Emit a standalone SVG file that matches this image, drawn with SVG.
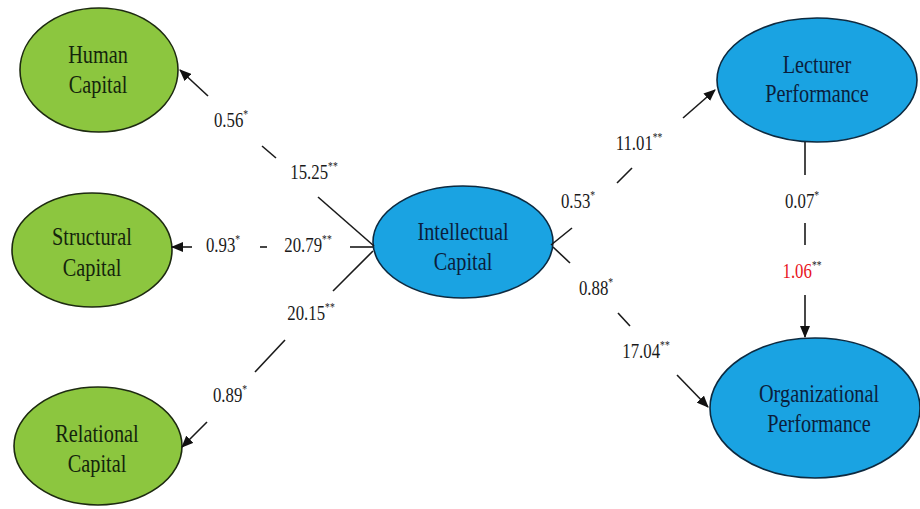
<svg xmlns="http://www.w3.org/2000/svg" width="920" height="509" viewBox="0 0 920 509">
<style>
.g{fill:#8cc63f;stroke:#1d2a10;stroke-width:1.6}
.b{fill:#1aa3e2;stroke:#0d2a40;stroke-width:1.6}
text{font-family:'Liberation Serif','Times New Roman','DejaVu Serif',serif}
.nt{font-size:26px;text-anchor:middle}
.gt{fill:#14240c}
.bt{fill:#0b1e3c}
.lb{font-size:21px;text-anchor:middle;fill:#1a1a1a}
.red{fill:#e8141c}
.st{font-size:12px}
.c line{stroke:#1a1a1a;stroke-width:1.6}
</style>
<defs>
<marker id="ah" viewBox="0 0 12 10" refX="11" refY="5" markerWidth="12" markerHeight="10" markerUnits="userSpaceOnUse" orient="auto">
<path d="M0,0 L12,5 L0,10 z" fill="#111"/>
</marker>
</defs>
<rect width="920" height="509" fill="#fff"/>
<g id="human">
<ellipse class="g" cx="99" cy="70" rx="79" ry="62"/>
<text class="nt gt" transform="translate(98,63) scale(0.78,1)">Human</text>
<text class="nt gt" transform="translate(98,93) scale(0.78,1)">Capital</text>
</g>
<g id="structural">
<ellipse class="g" cx="92" cy="250" rx="80" ry="57"/>
<text class="nt gt" transform="translate(92,245) scale(0.78,1)">Structural</text>
<text class="nt gt" transform="translate(92,276) scale(0.78,1)">Capital</text>
</g>
<g id="relational">
<ellipse class="g" cx="98" cy="446" rx="84" ry="59"/>
<text class="nt gt" transform="translate(97,442) scale(0.78,1)">Relational</text>
<text class="nt gt" transform="translate(97,472) scale(0.78,1)">Capital</text>
</g>
<g id="intellectual">
<ellipse class="b" cx="463" cy="242" rx="90" ry="56"/>
<text class="nt bt" transform="translate(463,240) scale(0.78,1)">Intellectual</text>
<text class="nt bt" transform="translate(463,270) scale(0.78,1)">Capital</text>
</g>
<g id="lecturer">
<ellipse class="b" cx="817" cy="80" rx="100" ry="62"/>
<text class="nt bt" transform="translate(817,73) scale(0.78,1)">Lecturer</text>
<text class="nt bt" transform="translate(817,102) scale(0.78,1)">Performance</text>
</g>
<g id="organizational">
<ellipse class="b" cx="815" cy="408" rx="105" ry="70"/>
<text class="nt bt" transform="translate(819,402) scale(0.78,1)">Organizational</text>
<text class="nt bt" transform="translate(819,432) scale(0.78,1)">Performance</text>
</g>
<g id="connectors" class="c">
<line x1="374" y1="246" x2="318" y2="197"/>
<line x1="276" y1="158" x2="262" y2="146"/>
<line x1="208" y1="96" x2="180" y2="70" marker-end="url(#ah)"/>
<line x1="373" y1="247" x2="350" y2="247"/>
<line x1="267" y1="247" x2="260" y2="247"/>
<line x1="192" y1="247" x2="172" y2="247" marker-end="url(#ah)"/>
<line x1="373" y1="251" x2="333" y2="291"/>
<line x1="285" y1="340" x2="255" y2="372"/>
<line x1="207" y1="422" x2="182" y2="447" marker-end="url(#ah)"/>
<line x1="551" y1="245" x2="572" y2="228"/>
<line x1="617" y1="183" x2="632" y2="168"/>
<line x1="683" y1="118" x2="715" y2="90" marker-end="url(#ah)"/>
<line x1="553" y1="247" x2="570" y2="263"/>
<line x1="618" y1="313" x2="630" y2="326"/>
<line x1="677" y1="375" x2="708" y2="407" marker-end="url(#ah)"/>
<line x1="805" y1="142" x2="805" y2="175"/>
<line x1="805" y1="223" x2="805" y2="245"/>
<line x1="805" y1="295" x2="805" y2="337" marker-end="url(#ah)"/>
</g>
<g id="labels">
<text class="lb" transform="translate(231,127) scale(0.8,1)">0.56<tspan class="st" dy="-9">*</tspan></text>
<text class="lb" transform="translate(314,179) scale(0.8,1)">15.25<tspan class="st" dy="-9">**</tspan></text>
<text class="lb" transform="translate(223,252) scale(0.8,1)">0.93<tspan class="st" dy="-9">*</tspan></text>
<text class="lb" transform="translate(308,252) scale(0.8,1)">20.79<tspan class="st" dy="-9">**</tspan></text>
<text class="lb" transform="translate(311,320) scale(0.8,1)">20.15<tspan class="st" dy="-9">**</tspan></text>
<text class="lb" transform="translate(230,402) scale(0.8,1)">0.89<tspan class="st" dy="-9">*</tspan></text>
<text class="lb" transform="translate(578,208) scale(0.8,1)">0.53<tspan class="st" dy="-9">*</tspan></text>
<text class="lb" transform="translate(639,150) scale(0.8,1)">11.01<tspan class="st" dy="-9">**</tspan></text>
<text class="lb" transform="translate(596,295) scale(0.8,1)">0.88<tspan class="st" dy="-9">*</tspan></text>
<text class="lb" transform="translate(646,358) scale(0.8,1)">17.04<tspan class="st" dy="-9">**</tspan></text>
<text class="lb" transform="translate(802,208) scale(0.8,1)">0.07<tspan class="st" dy="-9">*</tspan></text>
<text class="lb" transform="translate(802,278) scale(0.8,1)"><tspan class="red">1.06</tspan><tspan class="st" dy="-9">**</tspan></text>
</g>
</svg>
